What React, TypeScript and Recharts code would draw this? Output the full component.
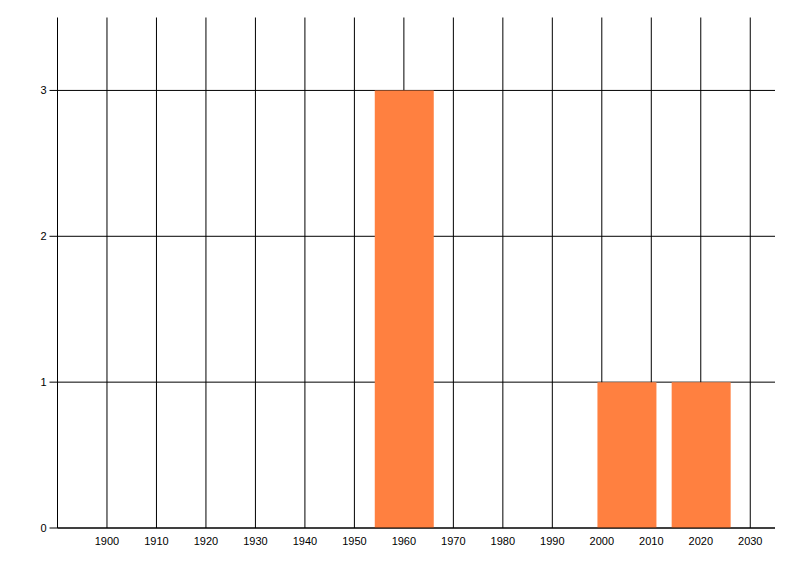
import { BarChart, Bar, XAxis, YAxis, CartesianGrid } from "recharts"

const years = [1960, 2005, 2020]
const counts = [3, 1, 1]
const xTicks = [1900, 1910, 1920, 1930, 1940, 1950, 1960, 1970, 1980, 1990, 2000, 2010, 2020, 2030]
const yTicks = [0, 1, 2, 3]

const data = years.map((year, i) => ({ year, count: counts[i] }))

const tickFont = { fill: "#000", fontFamily: "Liberation Sans, Arial, sans-serif", fontSize: 11 }

export default function App() {
  return (
    <div style={{ position: "absolute", left: 0, top: 0, width: 800, height: 576, background: "#fff" }}>
      <BarChart
        width={800}
        height={576}
        data={data}
        margin={{ top: 17.5, right: 25, bottom: 18, left: 0.5 }}
      >
        <CartesianGrid stroke="#000" strokeWidth={1} syncWithTicks />
        <XAxis
          dataKey="year"
          type="number"
          domain={[1890, 2035]}
          ticks={xTicks}
          interval={0}
          allowDataOverflow
          height={30}
          tickLine={false}
          tickSize={0}
          tickMargin={9}
          axisLine={{ stroke: "#000" }}
          tick={tickFont}
        />
        <YAxis
          type="number"
          domain={[0, 3.5]}
          ticks={yTicks}
          interval={0}
          allowDataOverflow
          width={57}
          tickSize={8}
          tickMargin={3}
          tickLine={{ stroke: "#000" }}
          axisLine={{ stroke: "#000" }}
          tick={tickFont}
        />
        <Bar dataKey="count" fill="#ff8040" barSize={59} isAnimationActive={false} />
      </BarChart>
    </div>
  )
}
